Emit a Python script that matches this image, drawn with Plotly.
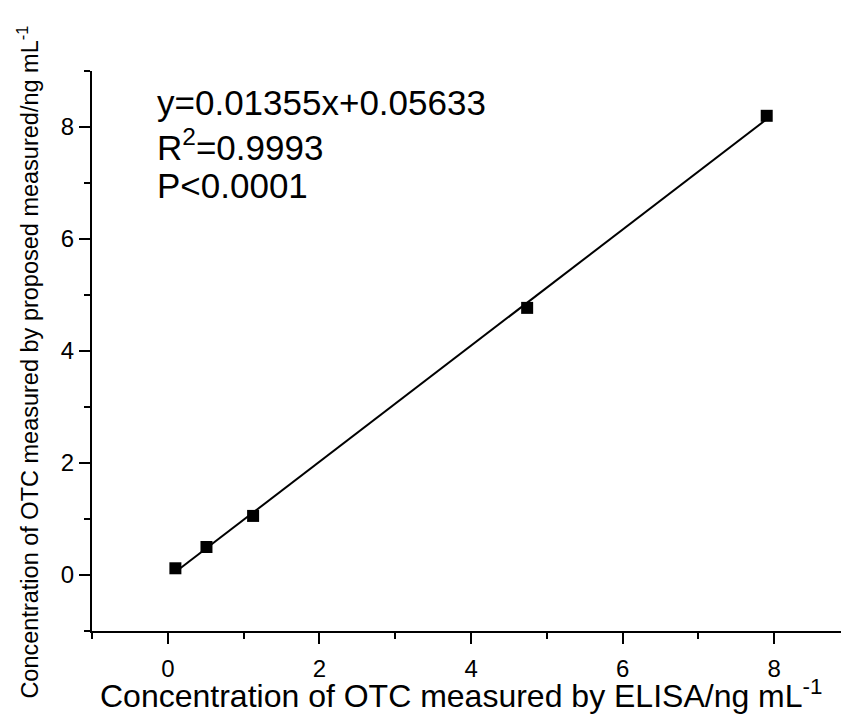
import numpy as np
import plotly.graph_objects as go

# Data
elisa = [0.10, 0.51, 1.125, 4.74, 7.90]
proposed = [0.12, 0.50, 1.055, 4.77, 8.20]

x_ticks = [0, 2, 4, 6, 8]
y_ticks = [0, 2, 4, 6, 8]

eq_lines = ["y=0.01355x+0.05633", "R<sup>2</sup>=0.9993", "P<0.0001"]

x_title = "Concentration of OTC measured by ELISA/ng mL<sup>-1</sup>"
y_title = "Concentration of OTC measured by proposed measured/ng mL<sup>-1</sup>"

slope, intercept = np.polyfit(elisa, proposed, 1)
fit_x = [min(elisa), max(elisa)]
fit_y = [slope * v + intercept for v in fit_x]

FONT = "Arial, Liberation Sans, sans-serif"

fig = go.Figure()
fig.add_trace(go.Scatter(x=fit_x, y=fit_y, mode="lines",
                         line=dict(color="black", width=2), showlegend=False))
fig.add_trace(go.Scatter(x=elisa, y=proposed, mode="markers",
                         marker=dict(symbol="square", size=12, color="black"),
                         showlegend=False))

ys = [0.943, 0.867, 0.795]
for t, yy in zip(eq_lines, ys):
    fig.add_annotation(text=t, xref="paper", yref="paper", x=0.084, y=yy,
                       xanchor="left", yanchor="middle", showarrow=False,
                       font=dict(family=FONT, size=35, color="black"))

# axis titles
fig.add_annotation(text=x_title, xref="paper", yref="paper", x=0.4927, y=-0.112,
                   xanchor="center", yanchor="middle", showarrow=False,
                   font=dict(family=FONT, size=32, color="black"))
fig.add_annotation(text=y_title, xref="paper", yref="paper", x=-0.0855, y=0.481,
                   xanchor="center", yanchor="middle", showarrow=False, textangle=-90,
                   font=dict(family=FONT, size=23.5, color="black"))

axis_common = dict(showline=True, linecolor="black", linewidth=2,
                   ticks="outside", ticklen=11, tickwidth=2, tickcolor="black",
                   showgrid=False, zeroline=False, automargin=False,
                   tickfont=dict(family=FONT, size=24, color="black"),
                   minor=dict(ticks="outside", ticklen=6, tickwidth=2,
                              tickcolor="black", dtick=1, tick0=0, showgrid=False))

fig.update_xaxes(range=[-1, 8.88], tickvals=x_ticks, ticklabelstandoff=4, **axis_common)
fig.update_yaxes(range=[-1, 9], tickvals=y_ticks, **axis_common)

fig.update_layout(width=841, height=728,
                  margin=dict(l=92, r=0, t=71, b=97),
                  plot_bgcolor="white", paper_bgcolor="white",
                  font=dict(family=FONT, color="black"))

fig.write_html("out.html", config={"displayModeBar": False},
               post_script="document.body.style.margin='0';document.body.style.padding='0';")
